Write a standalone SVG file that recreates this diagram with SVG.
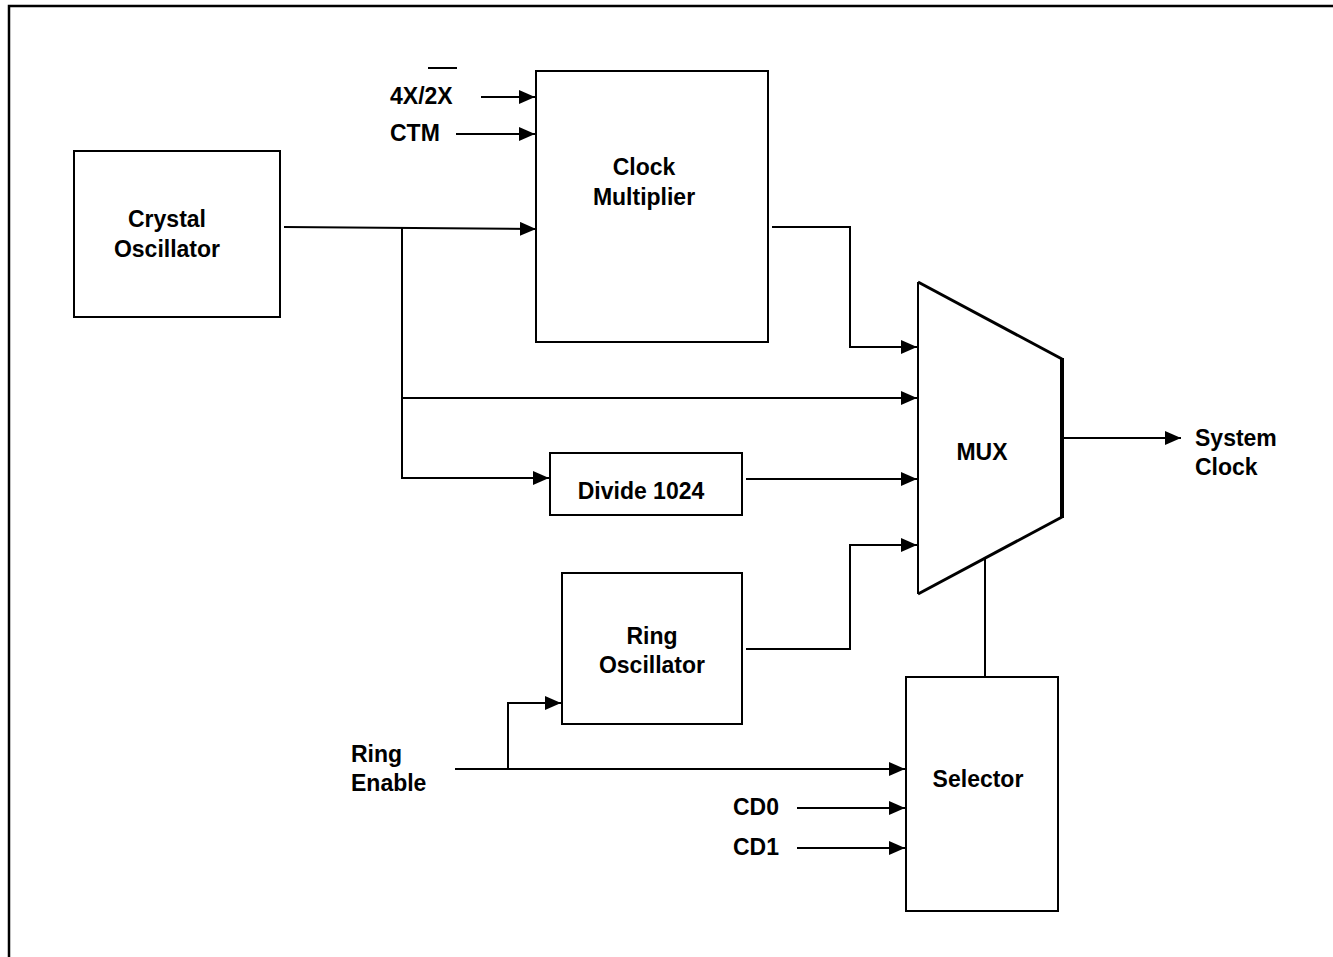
<svg xmlns="http://www.w3.org/2000/svg" width="1333" height="957" viewBox="0 0 1333 957">
<style>
.box{fill:#fff;stroke:#000;stroke-width:2}
.wire{fill:none;stroke:#000;stroke-width:2}
text{font-family:"Liberation Sans",Arial,sans-serif;font-weight:bold;font-size:23px;fill:#000}
.c{text-anchor:middle}
</style>
<defs>
<marker id="arr" markerUnits="userSpaceOnUse" markerWidth="16" markerHeight="14" refX="16" refY="7" orient="auto">
<path d="M0,0 L16,7 L0,14 z" fill="#000"/>
</marker>
</defs>
<rect x="0" y="0" width="1333" height="957" fill="#fff"/>
<path d="M9,957 V6 H1333" fill="none" stroke="#000" stroke-width="2.5"/>

<g id="connectors">
<path class="wire" d="M284,227 L536,229" marker-end="url(#arr)"/>
<path class="wire" d="M402,228 V478 H549" marker-end="url(#arr)"/>
<path class="wire" d="M402,398 H917" marker-end="url(#arr)"/>
<path class="wire" d="M481,97 H535" marker-end="url(#arr)"/>
<path class="wire" d="M456,134 H535" marker-end="url(#arr)"/>
<path class="wire" d="M772,227 H850 V347 H917" marker-end="url(#arr)"/>
<path class="wire" d="M746,479 H917" marker-end="url(#arr)"/>
<path class="wire" d="M746,649 H850 V545 H917" marker-end="url(#arr)"/>
<path class="wire" d="M1062,438 H1181" marker-end="url(#arr)"/>
<path class="wire" d="M985,557 V677"/>
<path class="wire" d="M455,769 H905" marker-end="url(#arr)"/>
<path class="wire" d="M508,769 V703 H561" marker-end="url(#arr)"/>
<path class="wire" d="M797,808 H905" marker-end="url(#arr)"/>
<path class="wire" d="M797,848 H905" marker-end="url(#arr)"/>
</g>

<g id="crystal-oscillator">
<rect class="box" x="74" y="151" width="206" height="166"/>
<text class="c" x="167" y="227">Crystal</text>
<text class="c" x="167" y="257">Oscillator</text>
</g>

<g id="clock-multiplier">
<rect class="box" x="536" y="71" width="232" height="271"/>
<text class="c" x="644" y="175">Clock</text>
<text class="c" x="644" y="205">Multiplier</text>
</g>

<g id="input-4x2x">
<text x="390" y="104">4X/2X</text>
<line x1="428" y1="68" x2="457" y2="68" stroke="#000" stroke-width="2"/>
</g>
<g id="input-ctm">
<text x="390" y="141">CTM</text>
</g>

<g id="divide-1024">
<rect class="box" x="550" y="453" width="192" height="62"/>
<text class="c" x="641" y="499">Divide 1024</text>
</g>

<g id="mux">
<path d="M918,282 L1062,359 L1062,517 L918,593 Z" fill="#fff" stroke="none"/>
<line x1="918" y1="282" x2="918" y2="594" stroke="#000" stroke-width="2"/>
<line x1="918" y1="282" x2="1062" y2="359" stroke="#000" stroke-width="3"/>
<line x1="918" y1="594" x2="1062" y2="517" stroke="#000" stroke-width="3"/>
<line x1="1062" y1="358" x2="1062" y2="518" stroke="#000" stroke-width="4"/>
<text class="c" x="982" y="460">MUX</text>
</g>

<g id="system-clock">
<text x="1195" y="446">System</text>
<text x="1195" y="475">Clock</text>
</g>

<g id="ring-oscillator">
<rect class="box" x="562" y="573" width="180" height="151"/>
<text class="c" x="652" y="644">Ring</text>
<text class="c" x="652" y="673">Oscillator</text>
</g>

<g id="ring-enable">
<text x="351" y="762">Ring</text>
<text x="351" y="791">Enable</text>
</g>

<g id="selector">
<rect class="box" x="906" y="677" width="152" height="234"/>
<text class="c" x="978" y="787">Selector</text>
</g>

<g id="cd0"><text x="733" y="815">CD0</text></g>
<g id="cd1"><text x="733" y="855">CD1</text></g>
</svg>
